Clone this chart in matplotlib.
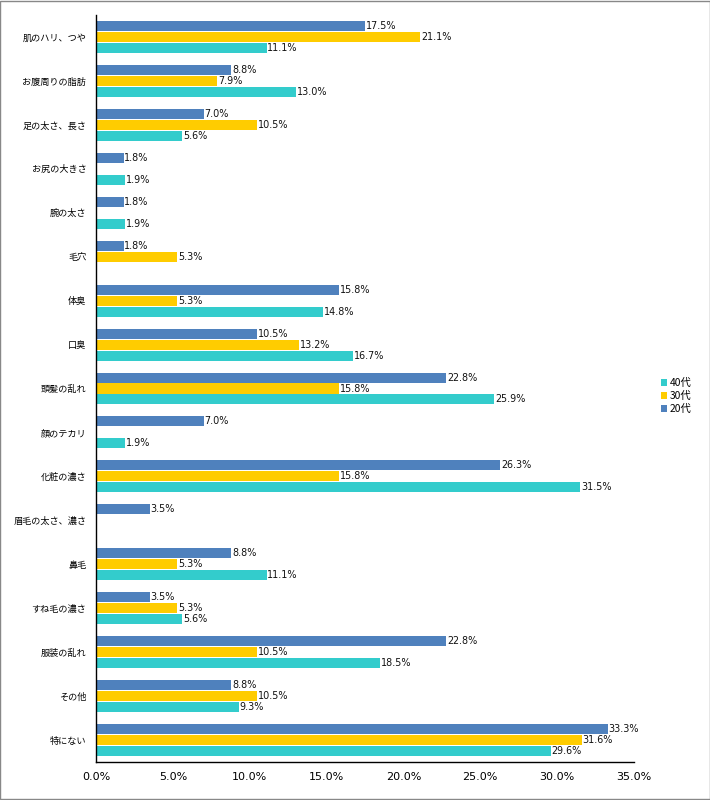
import matplotlib
matplotlib.use("Agg")
import matplotlib.pyplot as plt
from matplotlib.patches import Rectangle, Patch
import numpy as np

plt.rcParams['font.family'] = ['Noto Sans CJK JP', 'DejaVu Sans']

categories = ["肌のハリ、つや", "お腹周りの脂肪", "足の太さ、長さ", "お尻の大きさ", "腕の太さ",
              "毛穴", "体臭", "口臭", "頭髪の乱れ", "顔のテカリ", "化粧の濃さ",
              "眉毛の太さ、濃さ", "鼻毛", "すね毛の濃さ", "服装の乱れ", "その他", "特にない"]
s20 = [17.5, 8.8, 7.0, 1.8, 1.8, 1.8, 15.8, 10.5, 22.8, 7.0, 26.3, 3.5, 8.8, 3.5, 22.8, 8.8, 33.3]
s30 = [21.1, 7.9, 10.5, 0, 0, 5.3, 5.3, 13.2, 15.8, 0, 15.8, 0, 5.3, 5.3, 10.5, 10.5, 31.6]
s40 = [11.1, 13.0, 5.6, 1.9, 1.9, 0, 14.8, 16.7, 25.9, 1.9, 31.5, 0, 11.1, 5.6, 18.5, 9.3, 29.6]
series_names = ["20代", "30代", "40代"]
colors = ["#4F81BD", "#FFCC00", "#33CCCC"]
xticks = [0, 5, 10, 15, 20, 25, 30, 35]

fig = plt.figure(figsize=(7.1, 8.0), dpi=100)
ax = fig.add_axes([96/710, 1-762/800, 538/710, 747/800])

n = len(categories)
y = np.arange(n)
offsets = [-0.25, 0.0, 0.25]
h = 0.228
for vals, off, col in zip([s20, s30, s40], offsets, colors):
    for yi, v in zip(y, vals):
        if v <= 0:
            continue
        ax.barh(yi + off, v, height=h, color=col, edgecolor='none')
        ax.text(v + 0.05, yi + off, f"{v:.1f}%", va='center', ha='left',
                fontsize=6.9, family=['DejaVu Sans'], color='#111111')

ax.set_ylim(n - 0.5, -0.5)
ax.set_xlim(0, 35)
ax.set_yticks(y)
ax.set_yticklabels(categories, fontsize=6.6)
ax.set_xticks(xticks)
ax.set_xticklabels([f"{t:.1f}%" for t in xticks], fontsize=8.0, family=['DejaVu Sans'])
ax.tick_params(axis='both', length=0)
ax.tick_params(axis='y', pad=7)
ax.tick_params(axis='x', pad=7)
for s in ['top', 'right']:
    ax.spines[s].set_visible(False)
ax.spines['left'].set_color('black')
ax.spines['bottom'].set_color('black')
ax.spines['left'].set_linewidth(1.0)
ax.spines['bottom'].set_linewidth(1.0)

handles = [Patch(facecolor=colors[i], edgecolor='none') for i in [2, 1, 0]]
labels = [series_names[i] for i in [2, 1, 0]]
fig.legend(handles, labels, loc='center left', bbox_to_anchor=(656/710, 1-396/800),
           frameon=False, fontsize=7.4, handlelength=0.6, handleheight=0.6,
           handletextpad=0.2, labelspacing=0.3, borderpad=0)

fig.patches.append(Rectangle((0.0007, 0.0007), 0.9986, 0.9986, transform=fig.transFigure,
                             fill=False, edgecolor='#888888', linewidth=1.0))
fig.savefig("out.png", dpi=100)
